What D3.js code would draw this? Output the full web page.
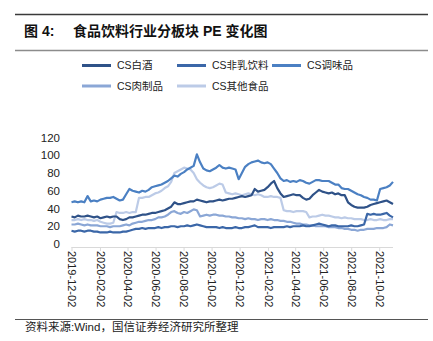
<!DOCTYPE html>
<html>
<head>
<meta charset="utf-8">
<script src="https://cdn.jsdelivr.net/npm/d3@7"></script>
<style>
  html, body { margin: 0; padding: 0; background: #fff; }
  svg { display: block; }
</style>
</head>
<body>
<svg id="chart" width="433" height="341"></svg>
<script>
// Weekly PE (TTM) of the CS food & beverage sub-sectors, Mondays from 2019-12-02
const seriesNames = ["CS白酒", "CS非乳饮料", "CS调味品", "CS肉制品", "CS其他食品"];

const baijiu = [31,30,32,31,31,32,31,30,31,29,30,31,30,31,31,28,27,28,30,30,
  31,32,33,33,34,35,35,36,37,38,40,42,47,45,45,46,47,48,48,50,
  49,48,47,48,48,49,50,49,50,51,51,52,53,54,53,54,55,62,59,60,
  61,64,68,71,63,57,53,54,55,56,55,55,52,50,51,55,58,61,59,58,
  57,58,56,57,55,55,47,44,42,41,41,41,42,44,45,46,47,48,49,47,45];

const feiru = [15,14,15,15,14,15,15,14,14,13,13,13,14,13,13,13,14,14,15,16,
  17,17,18,17,18,18,18,19,18,19,19,20,20,19,20,20,21,20,21,22,
  21,20,19,19,19,19,18,19,18,18,18,19,18,18,19,19,20,21,19,19,
  19,19,18,19,19,19,19,20,19,20,20,20,21,20,20,21,22,23,22,21,
  20,21,21,20,20,20,20,21,20,20,21,22,34,33,34,33,33,34,35,32,30];

const tiaowei = [47,48,47,48,47,54,48,49,48,50,51,52,52,53,51,49,50,56,62,60,
  59,58,60,59,61,64,65,66,67,69,71,74,77,76,79,81,84,86,88,101,
  92,85,83,82,84,86,89,86,85,86,85,84,73,80,87,90,92,93,94,92,
  91,92,90,85,80,74,71,72,70,71,70,72,71,69,68,70,72,72,71,71,
  71,69,67,67,63,62,62,60,58,56,55,53,52,50,50,49,62,63,64,66,70];

const rouzhi = [22,22,23,22,21,22,21,21,21,20,20,20,19,20,20,20,21,22,21,23,
  24,25,25,26,27,27,28,30,30,31,33,36,37,35,34,36,35,37,39,38,
  31,32,33,32,33,33,32,32,31,31,30,30,29,29,28,29,28,28,27,28,
  28,27,28,27,27,26,26,25,25,24,23,23,22,22,21,21,20,20,20,20,
  19,19,19,18,18,17,17,16,16,15,16,16,17,17,17,18,18,18,19,22,21];

const qita = [27,27,28,27,28,27,27,26,27,25,24,23,23,24,36,35,35,36,35,36,
  36,52,52,53,53,55,57,58,60,63,65,70,80,82,84,86,85,84,80,73,
  69,66,64,63,64,66,68,67,58,57,56,57,56,55,56,57,56,55,56,55,
  53,53,54,53,53,52,38,37,37,36,37,37,37,36,30,31,31,32,33,32,
  32,31,30,30,29,30,29,29,28,28,28,27,27,28,27,27,28,27,27,28,28];

const yTicks = [0, 20, 40, 60, 80, 100, 120];
const xTickLabels = ["2019-12-02", "2020-02-02", "2020-04-02", "2020-06-02",
  "2020-08-02", "2020-10-02", "2020-12-02", "2021-02-02", "2021-04-02",
  "2021-06-02", "2021-08-02", "2021-10-02"];

const colors = ["#2f5288", "#3b67a8", "#4b80c3", "#8ba7d6", "#bccbe7"];

const parse = d3.timeParse("%Y-%m-%d");
const start = parse("2019-12-02");
const end = parse("2021-11-01");
const dates = d3.timeMonday.range(start, d3.timeDay.offset(end, 1));

const svg = d3.select("#chart");

// Title block with its two rules
svg.append("line").attr("x1", 15).attr("x2", 428).attr("y1", 14.5).attr("y2", 14.5)
  .attr("stroke", "#3a3a3a").attr("stroke-width", 1.5);
svg.append("line").attr("x1", 15).attr("x2", 428).attr("y1", 50.5).attr("y2", 50.5)
  .attr("stroke", "#8c8c8c").attr("stroke-width", 1.5);
const titleFont = "'Liberation Sans', 'Noto Sans CJK SC', sans-serif";
svg.append("text").attr("x", 24).attr("y", 36).text("图 4:")
  .attr("font-family", titleFont).attr("font-size", 14).attr("font-weight", "bold").attr("fill", "#111");
svg.append("text").attr("x", 73).attr("y", 36).text("食品饮料行业分板块 PE 变化图")
  .attr("font-family", titleFont).attr("font-size", 14).attr("font-weight", "bold").attr("fill", "#111");

// Scales
const x = d3.scaleTime().domain([start, end]).range([71.5, 393]);
const y = d3.scaleLinear().domain([0, 120]).range([244, 137.5]);

// Y axis: labels only
const yAxis = svg.append("g").attr("transform", "translate(60,0)")
  .call(d3.axisLeft(y).tickValues(yTicks).tickSize(0).tickPadding(0));
yAxis.select(".domain").remove();
yAxis.selectAll("text").attr("font-family", "'Liberation Sans', Arial, sans-serif")
  .attr("font-size", 11.5).attr("fill", "#222");

// X axis with rotated date labels
const xAxis = svg.append("g").attr("transform", "translate(0,247)")
  .call(d3.axisBottom(x).tickValues(xTickLabels.map(parse)).tickSize(4)
    .tickFormat(d3.timeFormat("%Y-%m-%d")));
xAxis.select(".domain").attr("stroke", "#d9d9d9").attr("d", `M${x(start)},0.5H${x(end)}`);
xAxis.selectAll(".tick line").attr("stroke", "#d9d9d9");
xAxis.selectAll(".tick text")
  .attr("font-family", "'Liberation Sans', Arial, sans-serif")
  .attr("font-size", 11).attr("fill", "#222")
  .attr("transform", "rotate(90)")
  .attr("text-anchor", "start").attr("dy", "0.35em")
  .attr("x", 4).attr("y", 0);

// Lines
const seriesData = [baijiu, feiru, tiaowei, rouzhi, qita];
const line = d3.line().x((d, i) => x(dates[i])).y(d => y(d));
// draw lighter series first so the darker ones sit on top
[4, 3, 1, 0, 2].forEach(k => {
  svg.append("path").datum(seriesData[k])
    .attr("d", line).attr("fill", "none")
    .attr("stroke", colors[k]).attr("stroke-width", 2.2)
    .attr("stroke-linejoin", "round");
});

// Legend
const legendPos = [[82, 65.5], [177, 65.5], [272, 65.5], [82, 86], [177, 86]];
const legend = svg.append("g");
seriesNames.forEach((name, k) => {
  const [lx, ly] = legendPos[k];
  legend.append("line").attr("x1", lx).attr("x2", lx + 29).attr("y1", ly).attr("y2", ly)
    .attr("stroke", colors[k]).attr("stroke-width", 3);
  legend.append("text").attr("x", lx + 35).attr("y", ly).attr("dy", "0.35em").text(name)
    .attr("font-family", "'Liberation Sans', 'Noto Sans CJK SC', sans-serif")
    .attr("font-size", 10.5).attr("fill", "#222");
});

// Source note
svg.append("line").attr("x1", 15).attr("x2", 428).attr("y1", 319.5).attr("y2", 319.5)
  .attr("stroke", "#555").attr("stroke-width", 1);
svg.append("text").attr("x", 25).attr("y", 327).attr("dy", "0.35em")
  .text("资料来源:Wind，国信证券经济研究所整理")
  .attr("font-family", "'Liberation Sans', 'Noto Sans CJK SC', sans-serif")
  .attr("font-size", 11.5).attr("fill", "#222");
</script>
</body>
</html>
